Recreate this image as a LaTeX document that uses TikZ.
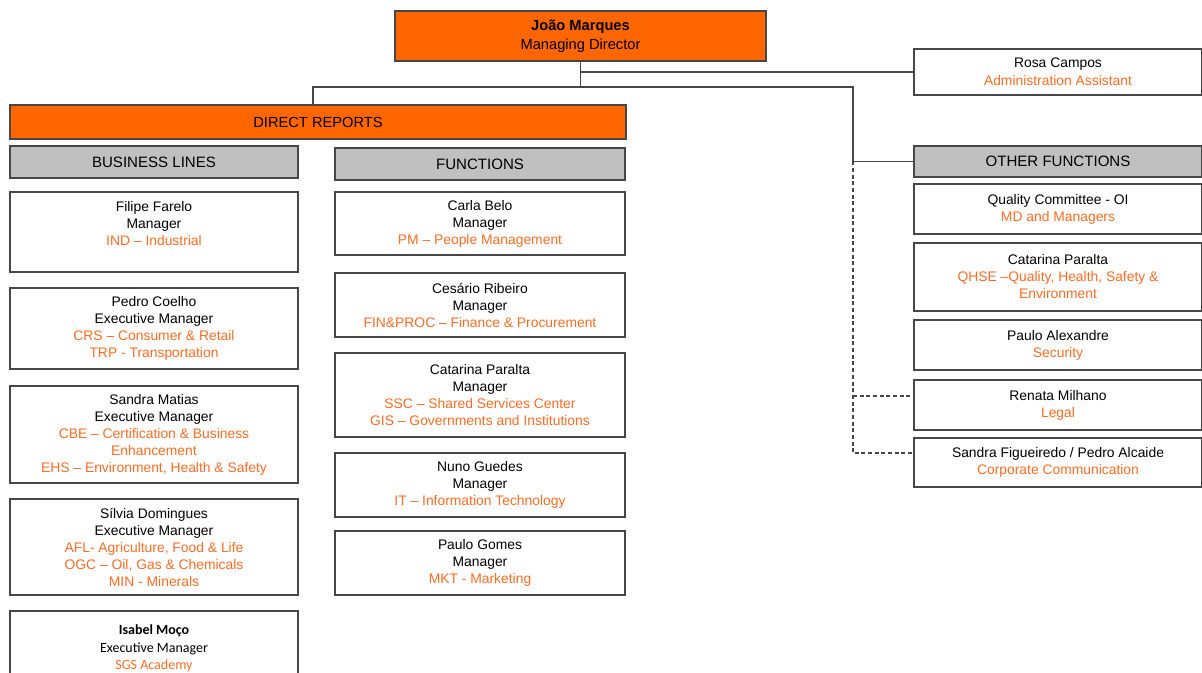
\documentclass[tikz,border=0pt]{standalone}
\usepackage{fontspec}
\setmainfont{Liberation Sans}
\newfontfamily\carlito{Carlito}
\definecolor{sgsorange}{HTML}{FF6600}
\definecolor{unitorange}{RGB}{255,108,36}
\definecolor{headgray}{HTML}{C0C0C0}
\definecolor{edgegray}{HTML}{474747}
\newcommand{\dept}[1]{{\color{unitorange}#1}}
\tikzset{card/.style = {draw=edgegray, line width=1.1pt, fill=white, anchor=north west,
                        align=center, inner sep=0pt, outer sep=0pt,
                        font=\fontsize{10.4}{12.75}\selectfont},
         banner/.style = {card, fill=headgray, font=\fontsize{11.3}{13}\selectfont},
         lead/.style = {card, fill=sgsorange, font=\fontsize{11}{14}\selectfont},
         link/.style = {draw=edgegray, line width=1.2pt},
         dash link/.style = {link, dash pattern=on 3pt off 2pt}}

\begin{document}
\begin{tikzpicture}[x=0.75pt, y=-0.75pt]
\useasboundingbox (0,0) rectangle (1202,673);
\clip (0,0) rectangle (1202,673);
% top
\node[lead, minimum width=278.25pt, minimum height=37.5pt] (md) at (395,11) {\textbf{João Marques}\\Managing Director};
\node[card, minimum width=216pt, minimum height=34.5pt, font=\fontsize{10.4}{13.5}\selectfont] (rosa) at (914,49) {Rosa Campos\\\dept{Administration Assistant}};
\node[lead, minimum width=462pt, minimum height=25.5pt] (dr) at (10,105) {DIRECT REPORTS};
\node[banner, minimum width=216pt, minimum height=24pt] (bl) at (10,146) {BUSINESS LINES};
\node[banner, minimum width=217.5pt, minimum height=24pt] (fn) at (335,148) {FUNCTIONS};
\node[banner, minimum width=216pt, minimum height=23.25pt] (of) at (914,146) {OTHER FUNCTIONS};
% business lines
\node[card, minimum width=216pt, minimum height=60pt] (filipe) at (10,192) {Filipe Farelo\\Manager\\\dept{IND – Industrial}\\ \mbox{}};
\node[card, minimum width=216pt, minimum height=60.75pt] (pedro) at (10,288) {Pedro Coelho\\Executive Manager\\\dept{CRS – Consumer \& Retail}\\\dept{TRP - Transportation}};
\node[card, minimum width=216pt, minimum height=72.75pt] (sandra) at (10,386) {Sandra Matias\\Executive Manager\\\dept{CBE – Certification \& Business}\\\dept{Enhancement}\\\dept{EHS – Environment, Health \& Safety}};
\node[card, minimum width=216pt, minimum height=72pt] (silvia) at (10,499) {Sílvia Domingues\\Executive Manager\\\dept{AFL- Agriculture, Food \& Life}\\\dept{OGC – Oil, Gas \& Chemicals}\\\dept{MIN - Minerals}};
\node[card, minimum width=216pt, minimum height=67.5pt, font=\carlito\fontsize{10.5}{13.1}\selectfont] (isabel) at (10,611) {\textbf{Isabel Moço}\\Executive Manager\\\dept{SGS Academy}\\ \mbox{}};
% functions
\node[card, minimum width=217.5pt, minimum height=47.25pt] (carla) at (335,192) {Carla Belo\\Manager\\\dept{PM – People Management}};
\node[card, minimum width=217.5pt, minimum height=48pt] (cesario) at (335,273) {Cesário Ribeiro\\Manager\\\dept{FIN\&PROC – Finance \& Procurement}};
\node[card, minimum width=217.5pt, minimum height=63pt] (catarina) at (335,353) {Catarina Paralta\\Manager\\\dept{SSC – Shared Services Center}\\\dept{GIS – Governments and Institutions}};
\node[card, minimum width=217.5pt, minimum height=48pt] (nuno) at (335,453) {Nuno Guedes\\Manager\\\dept{IT – Information Technology}};
\node[card, minimum width=217.5pt, minimum height=48pt] (paulo) at (335,531) {Paulo Gomes\\Manager\\\dept{MKT - Marketing}};
% other functions
\node[card, minimum width=216pt, minimum height=37.5pt] (quality) at (914,184) {Quality Committee - OI\\\dept{MD and Managers}};
\node[card, minimum width=216pt, minimum height=51pt] (qhse) at (914,243) {Catarina Paralta\\\dept{QHSE –Quality, Health, Safety \&}\\\dept{Environment}};
\node[card, minimum width=216pt, minimum height=37.5pt] (pauloa) at (914,320) {Paulo Alexandre\\\dept{Security}};
\node[card, minimum width=216pt, minimum height=37.5pt] (renata) at (914,380) {Renata Milhano\\\dept{Legal}};
\node[card, minimum width=216pt, minimum height=36.75pt] (sandraf) at (914,438) {Sandra Figueiredo / Pedro Alcaide\\\dept{Corporate Communication}};
% connectors
\coordinate (bus) at (md.south |- 0,87);
\coordinate (elbow) at (853,87);
\coordinate (legal in) at ([yshift=6.75pt]renata.west);
\coordinate (comm in) at ([yshift=7pt]sandraf.west);
\draw[link] (md.south) -- (bus) -| ([xshift=-3.75pt]dr.north);
\draw[link] (md.south |- rosa.west) -- (rosa.west);
\draw[link] (bus) -- (elbow) |- (of.west);
\draw[dash link] (elbow |- of.west) |- (comm in);
\draw[dash link] (elbow |- legal in) -- (legal in);
\end{tikzpicture}
\end{document}
